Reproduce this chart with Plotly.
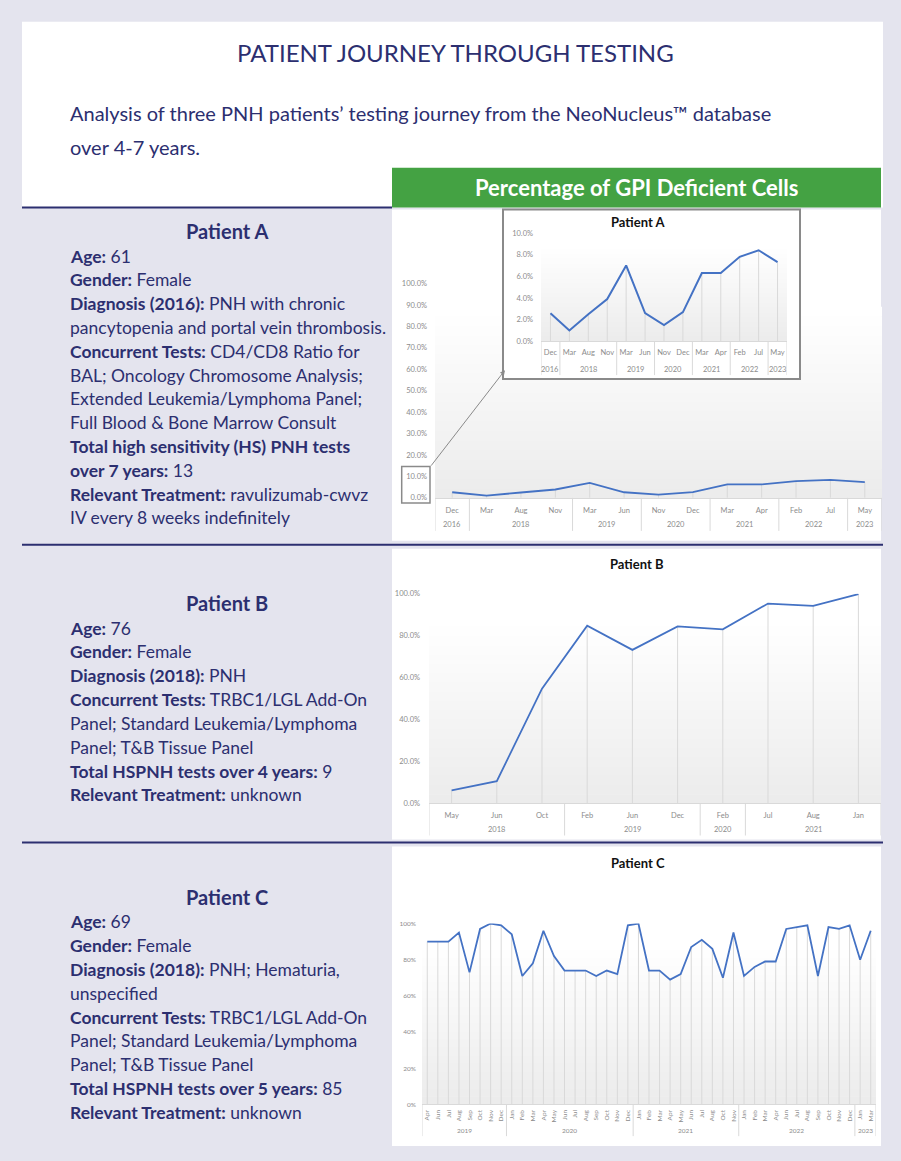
import plotly.graph_objects as go

W, H = 901, 1161
NAVY = "#2C2F70"
LAV = "#E4E4EE"
BLUE = "#4472C4"
GRAY_TXT = "#8C8C8C"
GRID = "#D9D9D9"
GREEN = "#44A243"
FONT = "Lato"

# ---------------- data ----------------
a_years = ["2016", "2018", "2018", "2018", "2019", "2019", "2020", "2020",
           "2021", "2021", "2022", "2022", "2023"]
a_months = ["Dec", "Mar", "Aug", "Nov", "Mar", "Jun", "Nov", "Dec",
            "Mar", "Apr", "Feb", "Jul", "May"]
a_values = [0.026, 0.010, 0.025, 0.039, 0.070, 0.026, 0.015, 0.027,
            0.063, 0.063, 0.078, 0.084, 0.073]

b_years = ["2018", "2018", "2018", "2019", "2019", "2019", "2020",
           "2021", "2021", "2021"]
b_months = ["May", "Jun", "Oct", "Feb", "Jun", "Dec", "Feb", "Jul", "Aug", "Jan"]
b_values = [0.062, 0.106, 0.547, 0.847, 0.732, 0.844, 0.830, 0.953, 0.942, 0.998]

c_years = ["2019", "2019", "2019", "2019", "2019", "2019", "2019", "2019",
           "2020", "2020", "2020", "2020", "2020", "2020", "2020", "2020",
           "2020", "2020", "2020", "2020",
           "2021", "2021", "2021", "2021", "2021", "2021", "2021", "2021",
           "2021", "2021",
           "2022", "2022", "2022", "2022", "2022", "2022", "2022", "2022",
           "2022", "2022", "2022",
           "2023", "2023"]
c_months = ["Apr", "Jun", "Jul", "Aug", "Sep", "Oct", "Nov", "Dec",
            "Jan", "Feb", "Mar", "Apr", "May", "Jun", "Jul", "Aug", "Sep", "Oct", "Nov", "Dec",
            "Jan", "Feb", "Mar", "Apr", "May", "Jun", "Jul", "Aug", "Oct", "Nov",
            "Jan", "Feb", "Mar", "Apr", "Jun", "Jul", "Aug", "Sep", "Oct", "Nov", "Dec",
            "Jan", "Mar"]
c_values = [0.90, 0.90, 0.90, 0.95, 0.73, 0.97, 1.00, 0.99,
            0.94, 0.71, 0.78, 0.96, 0.82, 0.74, 0.74, 0.74, 0.71, 0.74, 0.72, 0.99,
            1.00, 0.74, 0.74, 0.69, 0.72, 0.87, 0.91, 0.86, 0.70, 0.95,
            0.71, 0.76, 0.79, 0.79, 0.97, 0.98, 0.99, 0.71, 0.98, 0.97, 0.99,
            0.80, 0.96]

# ---------------- helpers ----------------
fig = go.Figure()
shapes = []
annotations = []
layout_axes = {}


def X(p):
    return p / W


def Y(p):
    return 1 - p / H


def rect(x0, y0, x1, y1, fill, line_color=None, lw=0, layer="below"):
    shapes.append(dict(type="rect", xref="paper", yref="paper",
                       x0=X(x0), x1=X(x1), y0=Y(y1), y1=Y(y0),
                       fillcolor=fill, layer=layer,
                       line=dict(color=line_color or fill, width=lw)))


def hline(x0, x1, y, color, w):
    shapes.append(dict(type="line", xref="paper", yref="paper",
                       x0=X(x0), x1=X(x1), y0=Y(y), y1=Y(y),
                       line=dict(color=color, width=w), layer="below"))


def text(x, y, s, size, color=NAVY, anchor="left", family=FONT):
    annotations.append(dict(xref="paper", yref="paper", x=X(x), y=Y(y), text=s,
                            showarrow=False, xanchor=anchor, yanchor="middle",
                            font=dict(family=family, size=size, color=color)))


def gradient(x0, x1, ytop, ybot, n=20):
    h = (ybot - ytop) / n
    for k in range(n):
        t = k / (n - 1)
        c = int(round(255 - 19 * t))
        col = f"rgb({c},{c},{c})"
        rect(x0, ytop + k * h, x1, ytop + (k + 1) * h + 0.6, col)


def chart(n, months, years, values, xl, xr, ytop, yzero, ymax, dtick, fmt, fs,
          year_y, div_bot, angle, grad_top, lw, ystand, xstand, title=None, title_xy=None):
    xa = "x" if n == 1 else f"x{n}"
    ya = "y" if n == 1 else f"y{n}"
    suffix = "" if n == 1 else str(n)
    idx = list(range(len(values)))
    gradient(xl, xr, grad_top, yzero)
    fig.add_trace(go.Scatter(
        x=idx, y=values, mode="lines",
        line=dict(color=BLUE, width=lw),
        error_y=dict(type="data", symmetric=False, array=[0] * len(values),
                     arrayminus=values, color=GRID, thickness=1, width=0),
        xaxis=xa, yaxis=ya, hoverinfo="skip", showlegend=False))
    layout_axes["xaxis" + suffix] = dict(
        domain=[X(xl), X(xr)], range=[-0.5, len(values) - 0.5],
        tickmode="array", tickvals=idx, ticktext=months, tickangle=angle,
        tickfont=dict(size=fs, color=GRAY_TXT, family=FONT),
        showgrid=False, zeroline=False, showline=True, linecolor=GRID, linewidth=1,
        ticks="", anchor=ya, fixedrange=True, ticklabelstandoff=xstand)
    layout_axes["yaxis" + suffix] = dict(
        domain=[Y(yzero), Y(ytop)], range=[0, ymax], dtick=dtick, tick0=0,
        tickformat=fmt, tickfont=dict(size=fs, color=GRAY_TXT, family=FONT),
        showgrid=False, zeroline=False, showline=False, ticks="",
        anchor=xa, fixedrange=True, ticklabelstandoff=ystand)
    # year groups and dividers
    bounds = [-0.5]
    start = 0
    for i in range(1, len(years) + 1):
        if i == len(years) or years[i] != years[start]:
            annotations.append(dict(xref=xa, yref="paper", x=(start + i - 1) / 2,
                                    y=Y(year_y), text=years[start], showarrow=False,
                                    xanchor="center", yanchor="middle",
                                    font=dict(size=fs, color=GRAY_TXT, family=FONT)))
            bounds.append(i - 0.5)
            start = i
    for b in bounds:
        shapes.append(dict(type="line", xref=xa, yref="paper", x0=b, x1=b,
                           y0=Y(yzero), y1=Y(div_bot),
                           line=dict(color=GRID, width=1), layer="above"))
    if title:
        text(title_xy[0], title_xy[1], f"<b>{title}</b>", 13, color="#111111", anchor="center")


# ---------------- page panels ----------------
rect(22, 18, 883, 205, "white")
rect(392, 165, 881, 205, GREEN)
hline(22, 392, 205, NAVY, 2)
rect(392, 207, 881, 541, "white")
hline(22, 883, 545, NAVY, 2)
rect(392, 549, 881, 842, "white")
hline(22, 883, 845, NAVY, 2)
rect(392, 849, 881, 1151, "white")

# ---------------- charts ----------------
# Patient A, full scale
chart(1, a_months, a_years, a_values, 435, 882, 281.7, 497.7, 1.0, 0.1, ".1%", 7.5,
      525, 531, 0, 305, 1.8, 7, 5)
# Patient A, zoomed inset
rect(503, 207, 800, 378, "white", "#8A8A8A", 2)
chart(2, a_months, a_years, a_values, 541, 787, 230.7, 340, 0.10, 0.02, ".1%", 7.5,
      368, 374, 0, 242, 2, 7, 4, "Patient A", (638, 220))
# Patient B
chart(3, b_months, b_years, b_values, 429, 881, 594.3, 805.7, 1.0, 0.2, ".1%", 7.5,
      832, 838, 0, 618, 1.8, 8, 5, "Patient B", (637, 564))
# Patient C
chart(4, c_months, c_years, c_values, 422, 876, 926.7, 1109, 1.0, 0.2, ".0%", 6.5,
      1135, 1141, -90, 945, 1.8, 5, 2, "Patient C", (638, 866))

# zoom box + arrow
rect(401.7, 466, 430, 503, "rgba(0,0,0,0)", "#8A8A8A", 1.5, layer="above")
annotations.append(dict(xref="paper", yref="paper", x=X(505), y=Y(369), ax=-75, ay=97,
                        text="", showarrow=True, arrowhead=2, arrowsize=1,
                        arrowwidth=1, arrowcolor="#8A8A8A", standoff=0))

# ---------------- header text ----------------
text(456, 49, "PATIENT JOURNEY THROUGH TESTING", 24, anchor="center")
text(68, 110, "Analysis of three PNH patients’ testing journey from the NeoNucleus™ database", 20)
text(68, 144, "over 4-7 years.", 20)
text(636, 185, "<b>Percentage of GPI Deficient Cells</b>", 22, color="white", anchor="center")

# ---------------- patient descriptions ----------------
TX = 68
FS = 17.5
HS = 20
text(227, 229, "<b>Patient A</b>", HS, anchor="center")
a_lines = [
    (254, "<b>Age:</b> 61"),
    (278, "<b>Gender:</b> Female"),
    (302, "<b>Diagnosis (2016):</b> PNH with chronic"),
    (326, "pancytopenia and portal vein thrombosis."),
    (350, "<b>Concurrent Tests:</b> CD4/CD8 Ratio for"),
    (374, "BAL; Oncology Chromosome Analysis;"),
    (398, "Extended Leukemia/Lymphoma Panel;"),
    (422, "Full Blood &amp; Bone Marrow Consult"),
    (446, "<b>Total high sensitivity (HS) PNH tests</b>"),
    (470, "<b>over 7 years:</b> 13"),
    (494, "<b>Relevant Treatment:</b> ravulizumab-cwvz"),
    (518, "IV every 8 weeks indefinitely"),
]
for y, s in a_lines:
    text(TX, y, s, FS)

text(227, 604, "<b>Patient B</b>", HS, anchor="center")
b_lines = [
    (629, "<b>Age:</b> 76"),
    (653, "<b>Gender:</b> Female"),
    (677, "<b>Diagnosis (2018):</b> PNH"),
    (701, "<b>Concurrent Tests:</b> TRBC1/LGL Add-On"),
    (725, "Panel; Standard Leukemia/Lymphoma"),
    (749, "Panel; T&amp;B Tissue Panel"),
    (773, "<b>Total HSPNH tests over 4 years:</b> 9"),
    (797, "<b>Relevant Treatment:</b> unknown"),
]
for y, s in b_lines:
    text(TX, y, s, FS)

text(227, 900, "<b>Patient C</b>", HS, anchor="center")
c_lines = [
    (925, "<b>Age:</b> 69"),
    (949, "<b>Gender:</b> Female"),
    (973, "<b>Diagnosis (2018):</b> PNH; Hematuria,"),
    (997, "unspecified"),
    (1021, "<b>Concurrent Tests:</b> TRBC1/LGL Add-On"),
    (1045, "Panel; Standard Leukemia/Lymphoma"),
    (1069, "Panel; T&amp;B Tissue Panel"),
    (1093, "<b>Total HSPNH tests over 5 years:</b> 85"),
    (1117, "<b>Relevant Treatment:</b> unknown"),
]
for y, s in c_lines:
    text(TX, y, s, FS)

fig.update_layout(
    width=W, height=H, autosize=False,
    margin=dict(l=0, r=0, t=0, b=0, pad=0),
    paper_bgcolor=LAV, plot_bgcolor="rgba(0,0,0,0)",
    font=dict(family=FONT, color=NAVY),
    shapes=shapes, annotations=annotations, showlegend=False,
    **layout_axes,
)

fig.write_html("out.html", config={"displayModeBar": False},
               post_script="document.body.style.margin='0';")
